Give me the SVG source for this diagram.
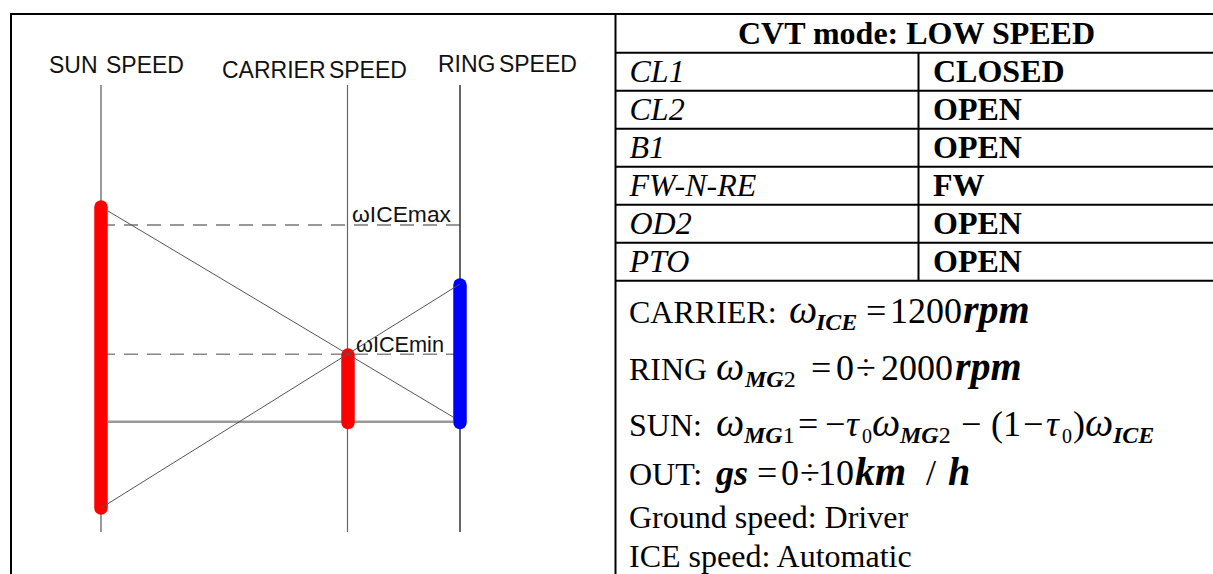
<svg xmlns="http://www.w3.org/2000/svg" width="1213" height="574" viewBox="0 0 1213 574">
<style>
.lbl{font-family:"Liberation Sans",Arial,sans-serif;font-size:23px;fill:#111}
.om{font-family:"Liberation Sans",Arial,sans-serif;font-size:22px;fill:#111}
.t{font-family:"Liberation Serif","Times New Roman",serif;font-size:32px;fill:#000}
.b{font-weight:bold}
.i{font-style:italic}
.eq{font-size:36px}
.w{font-size:40px}
.sub{font-size:24px}
.s0{font-size:20px}
.frame{stroke:#000;stroke-width:2;fill:none}
.axis{stroke-width:1.2;fill:none}
.bar{stroke-width:13.5;stroke-linecap:round;fill:none}
.diag{stroke:#555;stroke-width:1;fill:none}
</style>
<rect x="0" y="0" width="1213" height="574" fill="#fff"/>

<g id="frame" class="frame">
  <line x1="10" y1="14" x2="1213" y2="14"/>
  <line x1="11" y1="13" x2="11" y2="574"/>
  <line x1="615.5" y1="13" x2="615.5" y2="574"/>
</g>

<g id="axes">
  <line class="axis" x1="101" y1="85" x2="101" y2="532" stroke="#555"/>
  <line class="axis" x1="347.5" y1="85" x2="347.5" y2="532" stroke="#666"/>
  <line class="axis" x1="460" y1="85" x2="460" y2="532" stroke="#000"/>
</g>

<g id="axis-labels">
  <text class="lbl" x="49" y="73" word-spacing="2">SUN SPEED</text>
  <text class="lbl" x="222" y="77.5" word-spacing="-3">CARRIER SPEED</text>
  <text class="lbl" x="438" y="72" word-spacing="-3">RING SPEED</text>
</g>

<g id="connectors">
  <line x1="101" y1="225" x2="460" y2="225" stroke="#333" stroke-width="1.2" stroke-dasharray="14 9"/>
  <line x1="101" y1="354.3" x2="460" y2="354.3" stroke="#888" stroke-width="1.5" stroke-dasharray="14 9"/>
  <line x1="108" y1="421.7" x2="453" y2="421.7" stroke="#999" stroke-width="2.5"/>
</g>

<g id="sun-bar"><line class="bar" x1="101" y1="207" x2="101" y2="508" stroke="#f00"/></g>
<g id="carrier-bar"><line class="bar" x1="348" y1="355" x2="348" y2="422.5" stroke="#f00"/></g>
<g id="ring-bar"><line class="bar" x1="460" y1="285" x2="460" y2="422.5" stroke="#00f"/></g>

<g id="diagonals">
  <line class="diag" x1="108" y1="211" x2="453" y2="417"/>
  <line class="diag" x1="460" y1="284" x2="101" y2="508"/>
</g>

<g id="speed-labels">
  <text class="om" x="352" y="222" textLength="99" lengthAdjust="spacingAndGlyphs">ωICEmax</text>
  <text class="om" x="356" y="351.5" textLength="88" lengthAdjust="spacingAndGlyphs">ωICEmin</text>
</g>

<g id="table" class="frame">
  <line x1="615" y1="52.8" x2="1213" y2="52.8"/>
  <line x1="615" y1="90.8" x2="1213" y2="90.8"/>
  <line x1="615" y1="128.8" x2="1213" y2="128.8"/>
  <line x1="615" y1="166.8" x2="1213" y2="166.8"/>
  <line x1="615" y1="204.8" x2="1213" y2="204.8"/>
  <line x1="615" y1="242.8" x2="1213" y2="242.8"/>
  <line x1="615" y1="280.8" x2="1213" y2="280.8"/>
  <line x1="918.5" y1="52.8" x2="918.5" y2="280.8"/>
</g>

<g id="table-text">
  <text class="t b" x="916.5" y="43.5" text-anchor="middle">CVT mode: LOW SPEED</text>
  <text class="t i" x="629.5" y="81.8">CL1</text>
  <text class="t b" x="933" y="81.8">CLOSED</text>
  <text class="t i" x="629.5" y="119.8">CL2</text>
  <text class="t b" x="933" y="119.8">OPEN</text>
  <text class="t i" x="629.5" y="157.8">B1</text>
  <text class="t b" x="933" y="157.8">OPEN</text>
  <text class="t i" x="629.5" y="195.8">FW-N-RE</text>
  <text class="t b" x="933" y="195.8">FW</text>
  <text class="t i" x="629.5" y="233.8">OD2</text>
  <text class="t b" x="933" y="233.8">OPEN</text>
  <text class="t i" x="629.5" y="271.8">PTO</text>
  <text class="t b" x="933" y="271.8">OPEN</text>
</g>

<g id="equations">
  <text class="t" y="323"><tspan x="629">CARRIER:</tspan><tspan x="789" class="i w">ω</tspan><tspan x="816" y="330" class="b i sub">ICE</tspan><tspan x="866" y="323" class="eq">=</tspan><tspan x="890" class="eq">1200</tspan><tspan x="963" class="b i w">rpm</tspan></text>
  <text class="t" y="380"><tspan x="629">RING</tspan><tspan x="716" class="i w">ω</tspan><tspan x="745" y="387" class="b i sub">MG</tspan><tspan class="sub">2</tspan><tspan x="811" y="380" class="eq">=</tspan><tspan x="836" class="eq">0</tspan><tspan x="856" class="eq">÷</tspan><tspan x="881" class="eq">2000</tspan><tspan x="955" class="b i w">rpm</tspan></text>
  <text class="t" y="436"><tspan x="629">SUN:</tspan><tspan x="716" class="i w">ω</tspan><tspan x="744" y="443" class="b i sub">MG</tspan><tspan class="sub">1</tspan><tspan x="798" y="436" class="eq">=</tspan><tspan x="825" class="eq">−</tspan><tspan x="846" class="i eq">τ</tspan><tspan x="862" y="443" class="s0">0</tspan><tspan x="872" y="436" class="i w">ω</tspan><tspan x="900" y="443" class="b i sub">MG</tspan><tspan class="sub">2</tspan><tspan x="961" y="436" class="eq">−</tspan><tspan x="991" class="eq">(</tspan><tspan x="1003" class="eq">1</tspan><tspan x="1023" class="eq">−</tspan><tspan x="1046" class="i eq">τ</tspan><tspan x="1062" y="443" class="s0">0</tspan><tspan x="1073" y="436" class="eq">)</tspan><tspan x="1085" class="i w">ω</tspan><tspan x="1113" y="443" class="b i sub">ICE</tspan></text>
  <text class="t" y="485"><tspan x="629">OUT:</tspan><tspan x="716" class="b i eq">gs</tspan><tspan x="757" class="eq">=</tspan><tspan x="781" class="eq">0</tspan><tspan x="800" class="eq">÷</tspan><tspan x="818" class="eq">10</tspan><tspan x="855" class="b i w">km</tspan><tspan x="926" class="eq">/</tspan><tspan x="948" class="b i w">h</tspan></text>
  <text class="t" x="629" y="528">Ground speed: Driver</text>
  <text class="t" x="629" y="567">ICE speed: Automatic</text>
</g>
</svg>
